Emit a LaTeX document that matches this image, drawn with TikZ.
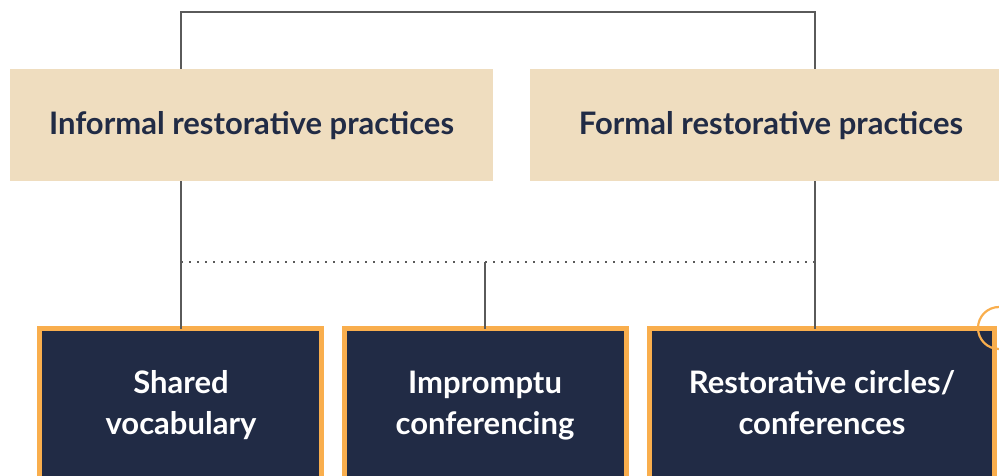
\documentclass[tikz,border=0pt]{standalone}
\usepackage{fontspec}
\setmainfont{Lato}
\definecolor{beige}{HTML}{EFDDBF}
\definecolor{navy}{HTML}{212B45}
\definecolor{orng}{HTML}{F9AE4D}
\definecolor{lgray}{HTML}{5A5A5A}
\begin{document}
\begin{tikzpicture}[x=1pt,y=-1pt,
  headbox/.style={fill=beige,draw=none,minimum width=483pt,minimum height=112pt,inner sep=0pt,
    text height=26pt,text depth=6pt,
    font=\fontsize{31}{36}\selectfont\bfseries,text=navy},
  darkbox/.style={fill=navy,draw=orng,line width=5pt,inner sep=0pt,outer sep=0pt,anchor=north west},
  boxtext/.style={font=\fontsize{31}{41}\selectfont\bfseries,text=white,align=center,anchor=base,inner sep=0pt},
  conn/.style={draw=lgray,line width=1.2pt},
  dotconn/.style={draw=lgray,line width=1.8pt,dash pattern=on 1.8pt off 6.2pt}]
\useasboundingbox (0,0) rectangle (999,476);
% heading boxes
\node[headbox] (inf) at (251.5,125) {Informal restorative practices};
\node[headbox] (form) at (771,125) {Formal restorative practices};
% bottom boxes
\node[darkbox,minimum width=282pt,minimum height=200pt] (sv) at (39.5,328.5) {};
\node[darkbox,minimum width=282pt,minimum height=200pt] (ic) at (344.5,328.5) {};
\node[darkbox,minimum width=345pt,minimum height=200pt] (rc) at (649.5,328.5) {};
\node[boxtext] (svt) at (181,434) {Shared\\vocabulary};
\node[boxtext] (ict) at (485,434) {Impromptu\\conferencing};
\node[boxtext] (rct) at (822,434) {Restorative circles/\\conferences};
% coordinates
\coordinate (tl) at (181,12);
\coordinate (tr) at (815,12);
\coordinate (dl) at (181,262);
\coordinate (dr) at (818,262);
\coordinate (dm) at (485,262);
% connectors
\draw[conn] (inf.north -| tl) -- (tl) -- (tr) -- (form.north -| tr);
\draw[conn] (inf.south -| dl) -- (sv.north -| dl);
\draw[conn] (form.south -| tr) -- (rc.north -| tr);
\draw[conn] (dm) -- (ic.north -| dm);
\draw[dotconn] (dl) -- (dr);
% circle
\node[circle,draw=orng,line width=2.2pt,minimum size=42pt,inner sep=0pt] (circ) at (999,328) {};
\end{tikzpicture}
\end{document}
